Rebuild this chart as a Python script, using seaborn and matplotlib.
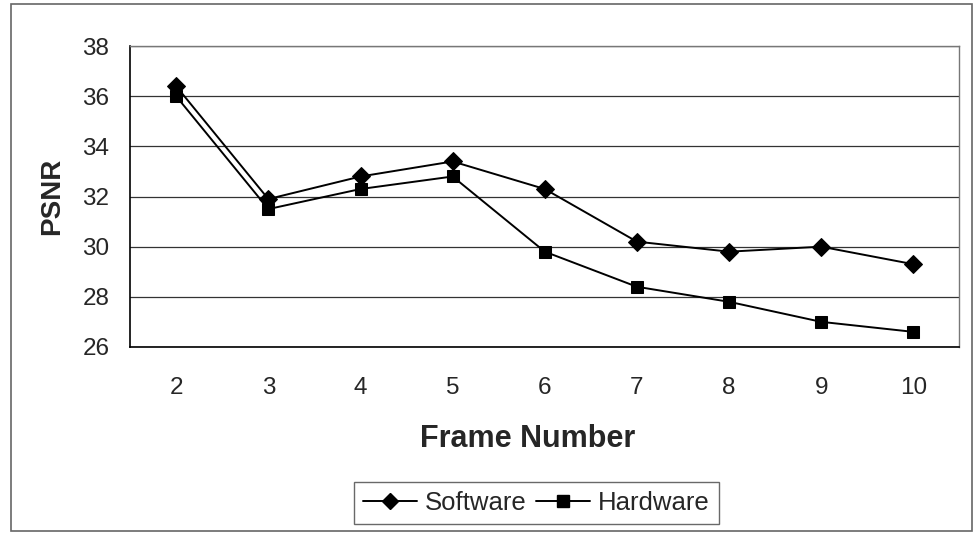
import matplotlib
matplotlib.use("Agg")
import matplotlib.pyplot as plt
from matplotlib.patches import Rectangle
import pandas as pd
import seaborn as sns

# PSNR per frame for the two implementations
frames = [2, 3, 4, 5, 6, 7, 8, 9, 10]
software = [36.4, 31.9, 32.8, 33.4, 32.3, 30.2, 29.8, 30.0, 29.3]
hardware = [36.0, 31.5, 32.3, 32.8, 29.8, 28.4, 27.8, 27.0, 26.6]
y_ticks = [26, 28, 30, 32, 34, 36, 38]

sns.set_theme(style="white")
plt.rcParams["font.family"] = ["Liberation Sans", "DejaVu Sans"]

df = pd.DataFrame({
    "Frame Number": frames * 2,
    "PSNR": software + hardware,
    "Series": ["Software"] * len(frames) + ["Hardware"] * len(frames),
})

fig = plt.figure(figsize=(9.75, 5.37), dpi=100)
ax = fig.add_axes([0.1335, 0.354, 0.8505, 0.560])

sns.lineplot(
    data=df, x="Frame Number", y="PSNR", hue="Series", style="Series",
    markers={"Software": "D", "Hardware": "s"}, dashes=False,
    palette={"Software": "black", "Hardware": "black"},
    markersize=9, linewidth=1.4, markeredgecolor="black", ax=ax,
    legend=False,
)

ax.set_xlim(1.5, 10.5)
ax.set_ylim(26, 38)
ax.set_yticks(y_ticks)
ax.set_xticks(frames)
ax.set_xticks([f + 0.5 for f in [1] + frames], minor=True)
ax.tick_params(axis="x", which="major", length=0, pad=22, labelsize=17.5)
ax.tick_params(axis="x", which="minor", length=6, width=1, color="black", direction="out")
ax.tick_params(axis="y", length=7, width=1, color="black", direction="out", labelsize=17.5, pad=8)
ax.yaxis.grid(True, color="#333333", linewidth=0.9)
ax.set_axisbelow(True)

for side in ("left", "bottom"):
    ax.spines[side].set_color("black")
    ax.spines[side].set_linewidth(1.2)
for side in ("top", "right"):
    ax.spines[side].set_visible(True)
    ax.spines[side].set_color("#777777")
    ax.spines[side].set_linewidth(1.0)

ax.set_xlabel("Frame Number", fontsize=22, fontweight="bold", labelpad=15)
ax.xaxis.set_label_coords(0.479, -0.255)
ax.set_ylabel("PSNR", fontsize=20, fontweight="bold", labelpad=12)

handles = [
    plt.Line2D([], [], color="black", marker="D", markersize=8, linewidth=1.4),
    plt.Line2D([], [], color="black", marker="s", markersize=8, linewidth=1.4),
]
leg = fig.legend(
    handles, ["Software", "Hardware"], loc="center", ncol=2,
    bbox_to_anchor=(0.55, 0.063), frameon=True, fontsize=18.5,
    handlelength=2.1, handletextpad=0.3, columnspacing=0.4,
    borderpad=0.35, fancybox=False,
)
leg.get_frame().set_edgecolor("#444444")
leg.get_frame().set_linewidth(1.0)

# outer chart-area border
fig.patches.append(Rectangle((0.011, 0.012), 0.986, 0.98, transform=fig.transFigure,
                             fill=False, edgecolor="#666666", linewidth=1.2))

fig.savefig("out.png", dpi=100, facecolor="white")
